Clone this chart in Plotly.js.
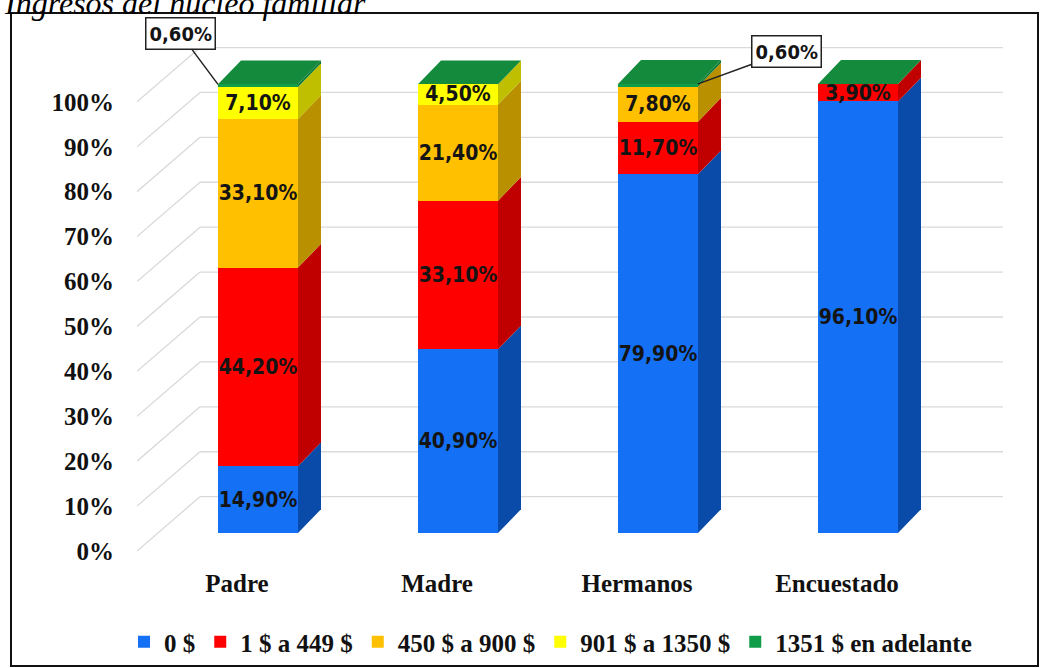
<!DOCTYPE html>
<html><head><meta charset="utf-8">
<script src="https://cdn.plot.ly/plotly-3.0.1.min.js"></script>
<style>html,body{margin:0;padding:0;background:#fff}#chart{width:1040px;height:668px}</style>
</head><body><div id="chart"></div>
<script>
// ---- data ----
const categories = ['Padre', 'Madre', 'Hermanos', 'Encuestado'];
const seriesNames = ['0 $', '1 $ a 449 $', '450 $ a 900 $', '901 $ a 1350 $', '1351 $ en adelante'];
const ingreso0 = [14.9, 40.9, 79.9, 96.1];
const ingreso1a449 = [44.2, 33.1, 11.7, 3.9];
const ingreso450a900 = [33.1, 21.4, 7.8, 0];
const ingreso901a1350 = [7.1, 4.5, 0, 0];
const ingreso1351mas = [0.6, 0, 0.6, 0];
const yTickVals = [0, 10, 20, 30, 40, 50, 60, 70, 80, 90, 100];
const yTickText = ['0%', '10%', '20%', '30%', '40%', '50%', '60%', '70%', '80%', '90%', '100%'];
const titleText = 'Ingresos del núcleo familiar';

// ---- styles ----
const frontColors = ['#1470f5', '#ff0000', '#ffc000', '#ffff00', '#0f9d4a'];
const sideColors = ['#0a4aa8', '#c00000', '#b89000', '#bfbf00', '#0b7a38'];
const topColor = '#138a3c';
const SERIF = 'Liberation Serif, Times New Roman, serif';
const LABEL_FONT = 'DejaVu Sans Condensed, DejaVu Sans, sans-serif';
const BAR_W = 0.4, DX = 0.115, DY = 5.3;
const ML = 137, MR = 37, MT = 39, MB = 108, W = 1040, H = 668;
const PW = W - ML - MR, PH = H - MT - MB;
const px2x = p => (p - ML) / PW;
const px2y = p => 1 - (p - MT) / PH;

const series = [ingreso0, ingreso1a449, ingreso450a900, ingreso901a1350, ingreso1351mas];
const xIdx = categories.map((c, i) => i);
const fmt = v => v.toFixed(2).replace('.', ',') + '%';

const traces = series.map((vals, k) => ({
  type: 'bar', name: seriesNames[k], x: xIdx, y: vals, width: BAR_W,
  marker: {color: frontColors[k], line: {width: 0}},
  text: vals.map(v => v >= 1 ? fmt(v) : ''),
  textposition: 'inside', insidetextanchor: 'middle', textangle: 0, constraintext: 'none',
  textfont: {family: LABEL_FONT, size: 21, color: '#141414', weight: 'bold'},
  hoverinfo: 'skip'
}));

const shapes = [];
// back-wall gridlines (3D look)
const X_LEFT = -0.605, X_WALL = -0.29, X_RIGHT = 3.725, BACK = 8.1, LBL = -4.0;
yTickVals.forEach(t => {
  shapes.push({type: 'line', xref: 'x', yref: 'y', x0: X_LEFT, y0: t + LBL, x1: X_WALL, y1: t + BACK,
    line: {color: '#d9d9d9', width: 1.3}, layer: 'below'});
  shapes.push({type: 'line', xref: 'x', yref: 'y', x0: X_WALL, y0: t + BACK, x1: X_RIGHT, y1: t + BACK,
    line: {color: '#d9d9d9', width: 1.3}, layer: 'below'});
});
// side and top faces
xIdx.forEach(i => {
  let base = 0;
  series.forEach((vals, k) => {
    const v = vals[i];
    if (v > 0) {
      const xr = i + BAR_W / 2;
      shapes.push({type: 'path', xref: 'x', yref: 'y', layer: 'below',
        path: `M${xr},${base} L${xr + DX},${base + DY} L${xr + DX},${base + v + DY} L${xr},${base + v} Z`,
        fillcolor: sideColors[k], line: {width: 0}});
    }
    base += v;
  });
  const xl = i - BAR_W / 2, xr = i + BAR_W / 2;
  shapes.push({type: 'path', xref: 'x', yref: 'y', layer: 'below',
    path: `M${xl},${base} L${xl + DX},${base + DY} L${xr + DX},${base + DY} L${xr},${base} Z`,
    fillcolor: topColor, line: {width: 0}});
});
// chart border
shapes.push({type: 'rect', xref: 'paper', yref: 'paper', x0: px2x(11), x1: px2x(1038), y0: px2y(666), y1: px2y(13),
  line: {color: '#111', width: 2}, fillcolor: 'rgba(0,0,0,0)'});

// callouts for small values
const calloutStyle = {0: {side: -1, ax: -38, ay: -51}, 2: {side: 1, ax: 88, ay: -32}};
const annotations = [];
xIdx.forEach(i => {
  let base = 0;
  series.forEach((vals, k) => {
    const v = vals[i];
    base += v;
    if (v > 0 && v < 1 && calloutStyle[i]) {
      const st = calloutStyle[i];
      annotations.push({xref: 'x', yref: 'y', x: i + st.side * BAR_W / 2, y: base,
        text: fmt(v), showarrow: true, arrowhead: 0, arrowwidth: 1.5, arrowcolor: '#222',
        ax: st.ax, ay: st.ay, bordercolor: '#222', borderwidth: 1.5, borderpad: 3, bgcolor: '#fff',
        font: {family: LABEL_FONT, size: 20, color: '#141414', weight: 'bold'}});
    }
  });
});
annotations.push({xref: 'paper', yref: 'paper', x: px2x(2), y: px2y(23), xanchor: 'left', yanchor: 'bottom',
  text: titleText, showarrow: false,
  font: {family: SERIF, size: 32, style: 'italic', color: '#000'}});

const layout = {
  width: W, height: H,
  margin: {l: ML, r: MR, t: MT, b: MB, pad: 0, autoexpand: false},
  paper_bgcolor: '#fff', plot_bgcolor: 'rgba(0,0,0,0)',
  barmode: 'stack',
  showlegend: true,
  legend: {orientation: 'h', xref: 'container', yref: 'container', x: 124 / W, xanchor: 'left',
    y: 1 - 619 / H, yanchor: 'top', bgcolor: 'rgba(0,0,0,0)',
    traceorder: 'normal', font: {family: SERIF, size: 25, color: '#111', weight: 'bold'}},
  xaxis: {range: [X_LEFT, X_RIGHT], tickvals: xIdx, ticktext: categories, showgrid: false, zeroline: false,
    showline: false, ticks: '', ticklabelshift: -21, ticklabelstandoff: 6, fixedrange: true, automargin: false,
    tickfont: {family: SERIF, size: 25, color: '#111', weight: 'bold'}},
  yaxis: {range: [-6, 110], tickvals: yTickVals, ticktext: yTickText, showgrid: false, zeroline: false,
    showline: false, ticks: '', ticklabelshift: 18, ticklabelstandoff: 22, fixedrange: true, automargin: false,
    tickfont: {family: SERIF, size: 25, color: '#111', weight: 'bold'}},
  shapes: shapes,
  annotations: annotations
};

Plotly.newPlot('chart', traces, layout, {displayModeBar: false, staticPlot: true});
</script>
</body></html>
